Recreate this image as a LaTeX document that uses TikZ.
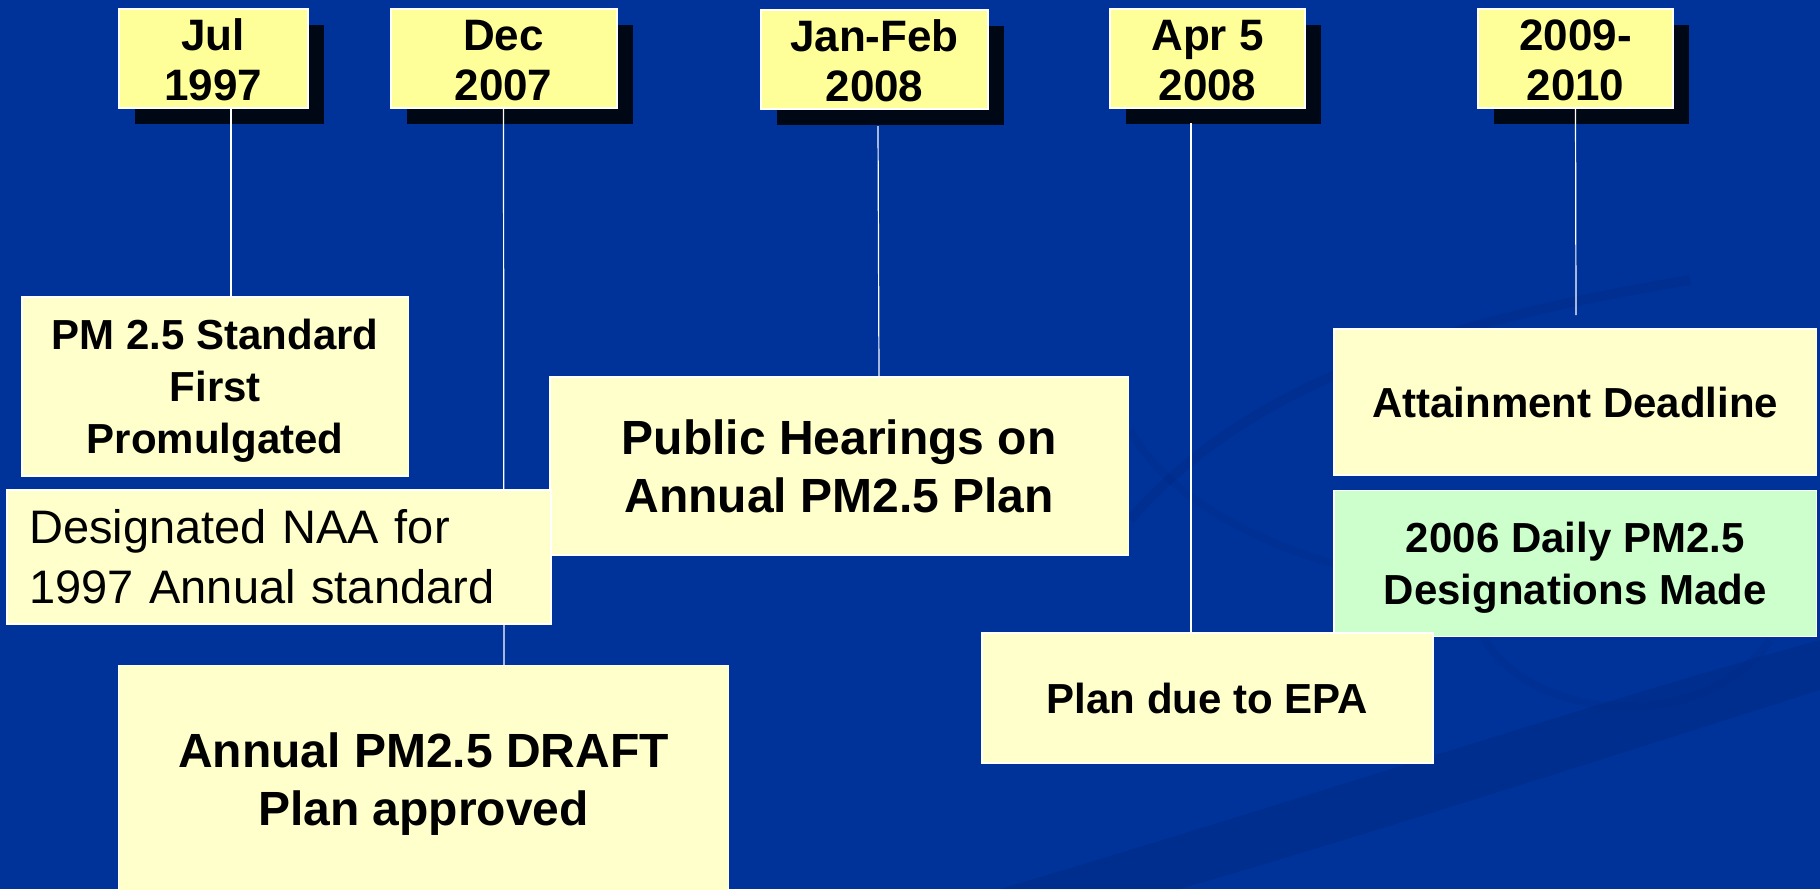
\documentclass[tikz,border=0pt]{standalone}
\usepackage{fontspec}
\setmainfont{Liberation Sans}
\usetikzlibrary{positioning, shadows}
\definecolor{slideblue}{RGB}{0,51,153}
\definecolor{swirlblue}{RGB}{0,38,125}
\definecolor{datefill}{RGB}{255,255,153}
\definecolor{eventfill}{RGB}{255,255,204}
\definecolor{greenfill}{RGB}{204,255,204}
\definecolor{shadowblack}{RGB}{0,8,22}
\tikzset{
	datebox/.style={
		draw=white,
		line width=1pt,
		fill=datefill,
		align=center,
		inner sep=0pt,
		text height=41.7pt,
		text depth=0pt,
		minimum height=49.5pt,
		font={\bfseries\fontsize{22}{25}\selectfont},
		drop shadow={shadow xshift=8pt, shadow yshift=-8pt, fill=shadowblack, opacity=1}
	},
	eventbox/.style={
		draw=white,
		line width=0.8pt,
		fill=eventfill,
		align=center,
		inner sep=0pt,
		text depth=0pt,
		font={\bfseries\fontsize{21}{26}\selectfont}
	},
	bigtext/.style={
		font={\bfseries\fontsize{24}{29}\selectfont}
	},
	stem/.style={
		draw=white,
		line width=0.6pt
	}
}

\begin{document}
\begin{tikzpicture}[x=0.5pt,y=-0.5pt]
\useasboundingbox (0,0) rectangle (1820,889);
\fill[slideblue] (0,0) rectangle (1820,889);
% faint swirl of the slide background
\fill[swirlblue, opacity=0.35] (1000,889) .. controls (1300,800) and (1600,700) .. (1820,640) -- (1820,690) .. controls (1600,760) and (1350,840) .. (1180,889) -- cycle;
\draw[swirlblue, opacity=0.25, line width=5pt] (1130,520) .. controls (1250,380) and (1450,320) .. (1690,280);
\draw[swirlblue, opacity=0.2, line width=4pt] (1130,430) .. controls (1200,560) and (1500,640) .. (1740,560);
\draw[swirlblue, opacity=0.2, line width=4pt] (1480,630) .. controls (1520,720) and (1700,740) .. (1770,640);

% dates
\node[datebox, minimum width=94.7pt] (jul) at (213.3,58.3) {Jul\\1997};
\node[datebox, minimum width=113pt] (dec) at (503.5,58.3) {Dec\\2007};
\node[datebox, minimum width=113.5pt] (janfeb) at (874.5,59.5) {Jan-Feb\\2008};
\node[datebox, minimum width=97.5pt] (apr) at (1207.5,58.5) {Apr 5\\2008};
\node[datebox, minimum width=97.5pt] (yrs) at (1575.5,58.5) {2009-\\2010};

% events
\coordinate (pmtop) at (231,297);
\coordinate (hearingtop) at (879,377);
\coordinate (plantop) at (1191,633);
\coordinate (attaintop) at (1576,315);
\coordinate (drafttop) at (504,666);

\draw[stem] ([xshift=8.85pt]jul.south) -- (pmtop);
\draw[stem] (dec.south) -- (drafttop);
\draw[stem] ([shift={(1.75pt,-8pt)}]janfeb.south) -- (hearingtop);
\draw[stem] ([shift={(-8.25pt,-7pt)}]apr.south) -- (plantop);
\draw[stem] (yrs.south) -- (attaintop);

\node[eventbox, minimum width=193.25pt, minimum height=89.5pt] (pmstd) at (215.25,386.5) {PM 2.5 Standard\\First\\Promulgated};
\node[eventbox, bigtext, minimum width=289.25pt, minimum height=89pt] (hearings) at (839.25,466) {Public Hearings on\\Annual PM2.5 Plan};
\node[eventbox, font={\fontsize{23.5}{28.5}\selectfont}, align=left, text width=250pt, text depth={}, inner xsep=11pt, minimum height=67pt] (naa) at (279.25,557) {Designated NAA for\\[1.5pt]1997 Annual standard};
\node[eventbox, bigtext, minimum width=305pt, minimum height=113.5pt] (draft) at (423.5,779) {Annual PM2.5 DRAFT\\Plan approved};
\node[eventbox, minimum width=241.25pt, minimum height=73pt] (attain) at (1575.25,402) {Attainment Deadline};
\node[eventbox, fill=greenfill, minimum width=241.25pt, minimum height=73pt] (daily) [below=7pt of attain] {2006 Daily PM2.5\\Designations Made};
\node[eventbox, minimum width=225.5pt, minimum height=65pt] (plandue) at (1207.5,698) {Plan due to EPA};
\end{tikzpicture}
\end{document}
